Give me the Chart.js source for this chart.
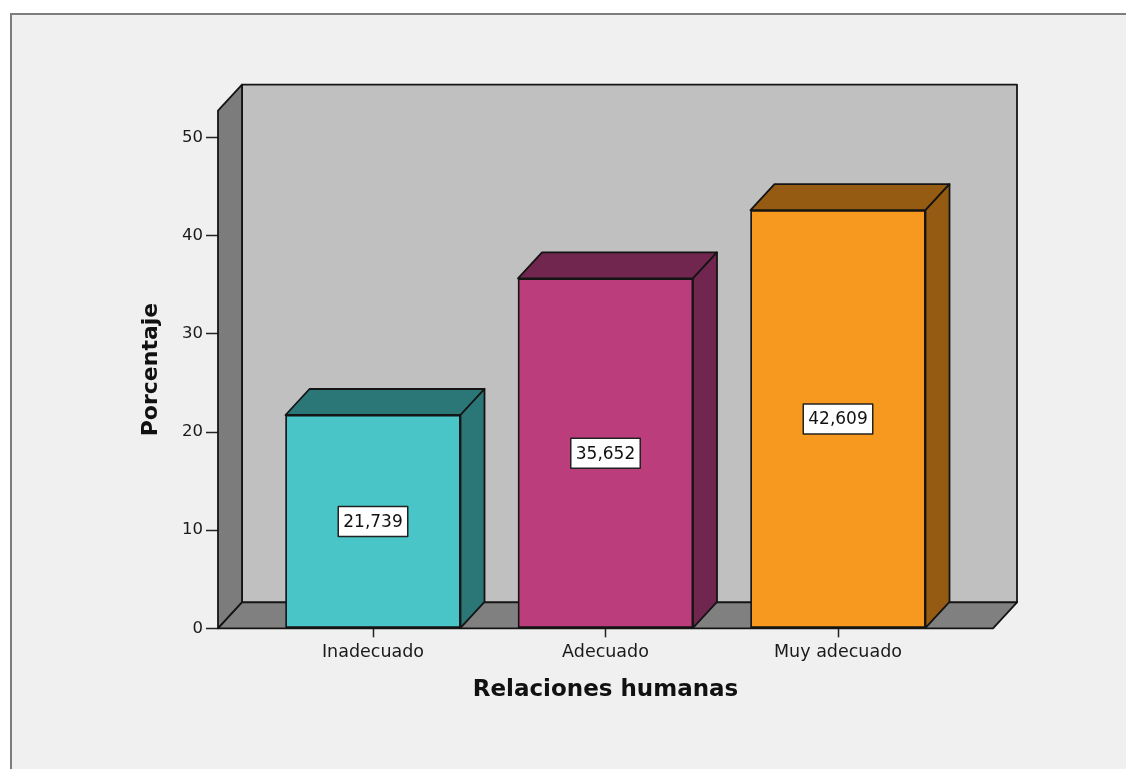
<!DOCTYPE html>
<html>
<head>
<meta charset="utf-8">
<script src="https://cdn.jsdelivr.net/npm/chart.js@4.4.1/dist/chart.umd.min.js"></script>
<style>
  html, body { margin: 0; padding: 0; background: #ffffff; }
  #frame {
    position: absolute; left: 10px; top: 13px; width: 1116px; height: 756px;
    background: #f0f0f0; border-left: 2px solid #7d7d7d; border-top: 2px solid #7d7d7d;
    box-sizing: border-box;
  }
  #wrap { position: absolute; left: 0; top: 0; width: 1126px; height: 769px; }
</style>
</head>
<body>
<div id="frame"></div>
<div id="wrap"><canvas id="c" width="1126" height="769"></canvas></div>
<script>
// Data
const categories = ['Inadecuado', 'Adecuado', 'Muy adecuado'];
const percentages = [21.739, 35.652, 42.609];
const yTickValues = [0, 10, 20, 30, 40, 50];

// Styling
const frontColors = ['#49c4c7', '#bb3d7c', '#f8991f'];
const shadeColors = ['#2b7777', '#71264f', '#955b12'];
const DEPTH_X = 24, DEPTH_Y = 26;
const LINE = '#141414';

// Back wall, side wall and floor of the 3D box, plus the bar depth faces
const boxPlugin = {
  id: 'box3d',
  beforeDatasetsDraw(chart) {
    const ctx = chart.ctx;
    const { left: L, right: R, top: T } = chart.chartArea;
    const B = chart.scales.y.getPixelForValue(0);
    ctx.save();
    ctx.lineJoin = 'round';
    ctx.lineWidth = 1.8;
    ctx.strokeStyle = LINE;
    // back wall
    ctx.fillStyle = '#c0c0c0';
    ctx.beginPath();
    ctx.rect(L + DEPTH_X, T - DEPTH_Y, R - L, B - T);
    ctx.fill(); ctx.stroke();
    // left wall
    ctx.fillStyle = '#7c7c7c';
    ctx.beginPath();
    ctx.moveTo(L, T); ctx.lineTo(L + DEPTH_X, T - DEPTH_Y);
    ctx.lineTo(L + DEPTH_X, B - DEPTH_Y); ctx.lineTo(L, B); ctx.closePath();
    ctx.fill(); ctx.stroke();
    // floor
    ctx.fillStyle = '#808080';
    ctx.beginPath();
    ctx.moveTo(L, B); ctx.lineTo(L + DEPTH_X, B - DEPTH_Y);
    ctx.lineTo(R + DEPTH_X, B - DEPTH_Y); ctx.lineTo(R, B); ctx.closePath();
    ctx.fill(); ctx.stroke();
    ctx.restore();
  },
  afterDatasetsDraw(chart) {
    const ctx = chart.ctx;
    const meta = chart.getDatasetMeta(0);
    ctx.save();
    ctx.lineJoin = 'round';
    ctx.lineWidth = 1.8;
    ctx.strokeStyle = LINE;
    meta.data.forEach((el, i) => {
      const { x, y, base, width } = el.getProps(['x', 'y', 'base', 'width'], true);
      const x0 = x - width / 2, x1 = x + width / 2;
      ctx.fillStyle = shadeColors[i];
      // top face
      ctx.beginPath();
      ctx.moveTo(x0, y); ctx.lineTo(x0 + DEPTH_X, y - DEPTH_Y);
      ctx.lineTo(x1 + DEPTH_X, y - DEPTH_Y); ctx.lineTo(x1, y); ctx.closePath();
      ctx.fill(); ctx.stroke();
      // right face
      ctx.beginPath();
      ctx.moveTo(x1, y); ctx.lineTo(x1 + DEPTH_X, y - DEPTH_Y);
      ctx.lineTo(x1 + DEPTH_X, base - DEPTH_Y); ctx.lineTo(x1, base); ctx.closePath();
      ctx.fill(); ctx.stroke();
    });
    // value labels in white boxes
    ctx.font = '17px "DejaVu Sans"';
    ctx.textAlign = 'center';
    ctx.textBaseline = 'middle';
    meta.data.forEach((el, i) => {
      const { x, y, base } = el.getProps(['x', 'y', 'base'], true);
      const text = percentages[i].toFixed(3).replace('.', ',');
      const w = ctx.measureText(text).width + 10;
      const h = 30;
      const cy = (y + base) / 2;
      ctx.fillStyle = '#ffffff';
      ctx.fillRect(x - w / 2, cy - h / 2, w, h);
      ctx.lineWidth = 1.5;
      ctx.strokeStyle = '#222';
      ctx.strokeRect(x - w / 2, cy - h / 2, w, h);
      ctx.fillStyle = '#111';
      ctx.fillText(text, x, cy + 1);
    });
    ctx.restore();
  }
};

new Chart(document.getElementById('c'), {
  type: 'bar',
  data: {
    datasets: [{
      data: categories.map((c, i) => ({ x: i, y: percentages[i] })),
      backgroundColor: frontColors,
      borderColor: LINE,
      borderWidth: 1.8,
      borderSkipped: false,
      barThickness: 175
    }]
  },
  options: {
    responsive: false,
    devicePixelRatio: 1,
    animation: false,
    layout: { padding: { left: 134, right: 133, top: 110.7, bottom: 60.7 } },
    plugins: { legend: { display: false }, tooltip: { enabled: false } },
    scales: {
      x: {
        type: 'linear',
        min: -2 / 3,
        max: 8 / 3,
        offset: false,
        afterFit: s => { s.height = 80; },
        afterBuildTicks: s => { s.ticks = categories.map((c, i) => ({ value: i })); },
        border: { display: false },
        grid: { offset: false, drawOnChartArea: false, drawTicks: true, tickLength: 9, tickColor: '#222', tickWidth: 1.5 },
        ticks: {
          callback: v => categories[v],
          font: { family: 'DejaVu Sans', size: 17.5 },
          color: '#1a1a1a',
          padding: 5,
          maxRotation: 0,
          autoSkip: false
        },
        title: {
          display: true,
          text: 'Relaciones humanas',
          font: { family: 'DejaVu Sans', size: 23, weight: 'bold' },
          color: '#111'
        }
      },
      y: {
        min: 0,
        max: 52.75,
        afterFit: s => { s.width = 84; },
        afterBuildTicks: s => { s.ticks = yTickValues.map(v => ({ value: v })); },
        border: { display: false },
        grid: { drawOnChartArea: false, drawTicks: true, tickLength: 12, tickColor: '#222', tickWidth: 1.5 },
        ticks: {
          font: { family: 'DejaVu Sans', size: 16.5 },
          color: '#1a1a1a',
          padding: 3
        },
        title: {
          display: true,
          text: 'Porcentaje',
          font: { family: 'DejaVu Sans', size: 22, weight: 'bold' },
          color: '#111'
        }
      }
    }
  },
  plugins: [boxPlugin]
});
</script>
</body>
</html>
